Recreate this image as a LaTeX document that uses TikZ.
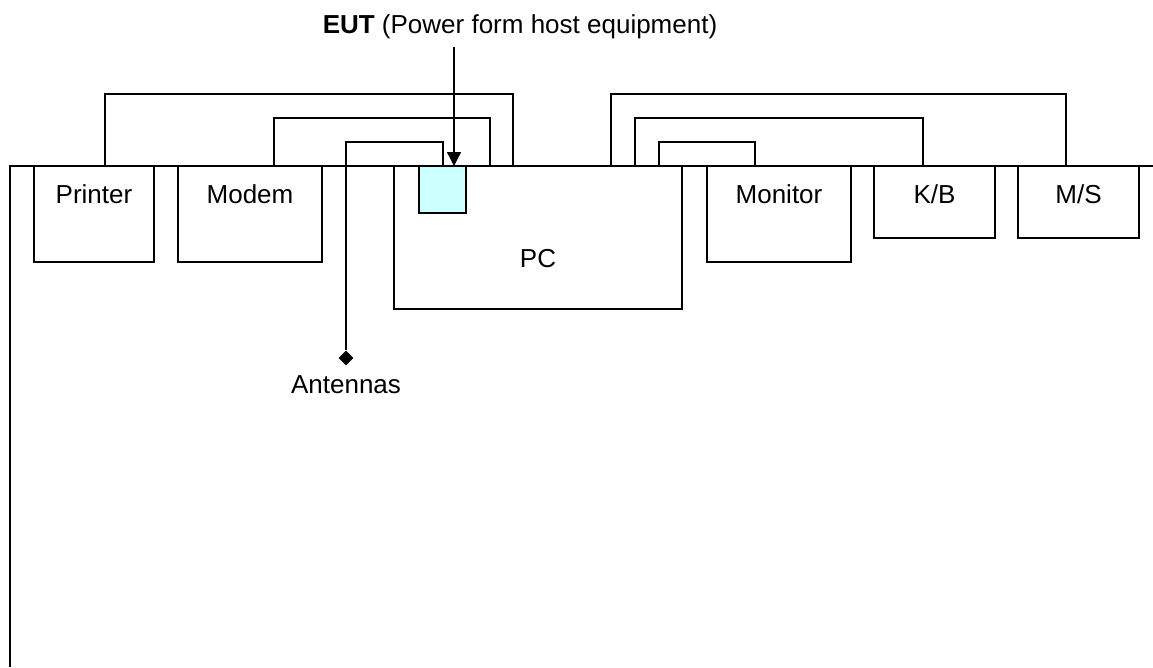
\documentclass[tikz,border=0pt]{standalone}
\usepackage{fontspec}
\setmainfont{Liberation Sans}
\usetikzlibrary{positioning,shapes.geometric,arrows.meta}
\definecolor{eutcyan}{HTML}{CCFFFF}

\begin{document}
\begin{tikzpicture}[
    x=1pt, y=-1pt,
    font=\fontsize{26}{30}\selectfont,
    unit/.style={rectangle, draw=black, line width=1.3pt, anchor=north west, inner sep=0pt, outer sep=0pt},
    lbl/.style={anchor=base, inner sep=0pt},
    cable/.style={line width=1.3pt},
    arrow/.style={-{Triangle[length=14pt, width=14pt]}, line width=1.3pt}
  ]
  \useasboundingbox (0,0) rectangle (1153,667);

  % table edge
  \draw[line width=2pt] (1153,166) -- (10,166) -- (10,667);

  \node[unit, minimum width=120pt, minimum height=96pt] (printer) at (34,166) {};
  \node[unit, minimum width=144pt, minimum height=96pt] (modem) at (178,166) {};
  \node[unit, minimum width=288pt, minimum height=143pt] (pc) at (394,166) {};
  \node[unit, fill=eutcyan, minimum width=47pt, minimum height=47pt] (eut) at (419,166) {};
  \node[unit, minimum width=144pt, minimum height=96pt] (monitor) at (707,166) {};
  \node[unit, minimum width=121pt, minimum height=72pt] (kb) at (874,166) {};
  \node[unit, minimum width=121pt, minimum height=72pt] (ms) at (1018,166) {};
  \node[diamond, fill=black, inner sep=0pt, minimum size=15pt] (antenna) at (346,358) {};

  \node[lbl] (printerlbl) at (printer.north |- 0,203) {Printer};
  \node[lbl] (modemlbl) at (modem.north |- 0,203) {Modem};
  \node[lbl] (monitorlbl) at (monitor.north |- 0,203) {Monitor};
  \node[lbl] (kblbl) at (kb.north |- 0,203) {K/B};
  \node[lbl] (mslbl) at (ms.north |- 0,203) {M/S};
  \node[lbl] (pclbl) at (pc.north |- 0,267) {PC};
  \node[lbl] (antennalbl) at (antenna.south |- 0,393) {Antennas};
  \node[lbl] (title) at (520,33) {\textbf{EUT} (Power form host equipment)};

  % cables
  \draw[cable] (printer.north -| 105,0) -- ++(0,-72) -| (pc.north -| 513,0);
  \draw[cable] (modem.north -| 274,0) -- ++(0,-48) -| (pc.north -| 490,0);
  \draw[cable] (pc.north -| 443,0) -- ++(0,-24) -| (antenna.north);
  \draw[cable] (pc.north -| 611,0) -- ++(0,-72) -| (ms.north -| 1066,0);
  \draw[cable] (pc.north -| 635,0) -- ++(0,-48) -| (kb.north -| 923,0);
  \draw[cable] (pc.north -| 659,0) -- ++(0,-24) -| (monitor.north -| 755,0);

  \draw[arrow, shorten <=8pt] (title.south -| 454,0) -- (eut.north -| 454,0);

\end{tikzpicture}
\end{document}
